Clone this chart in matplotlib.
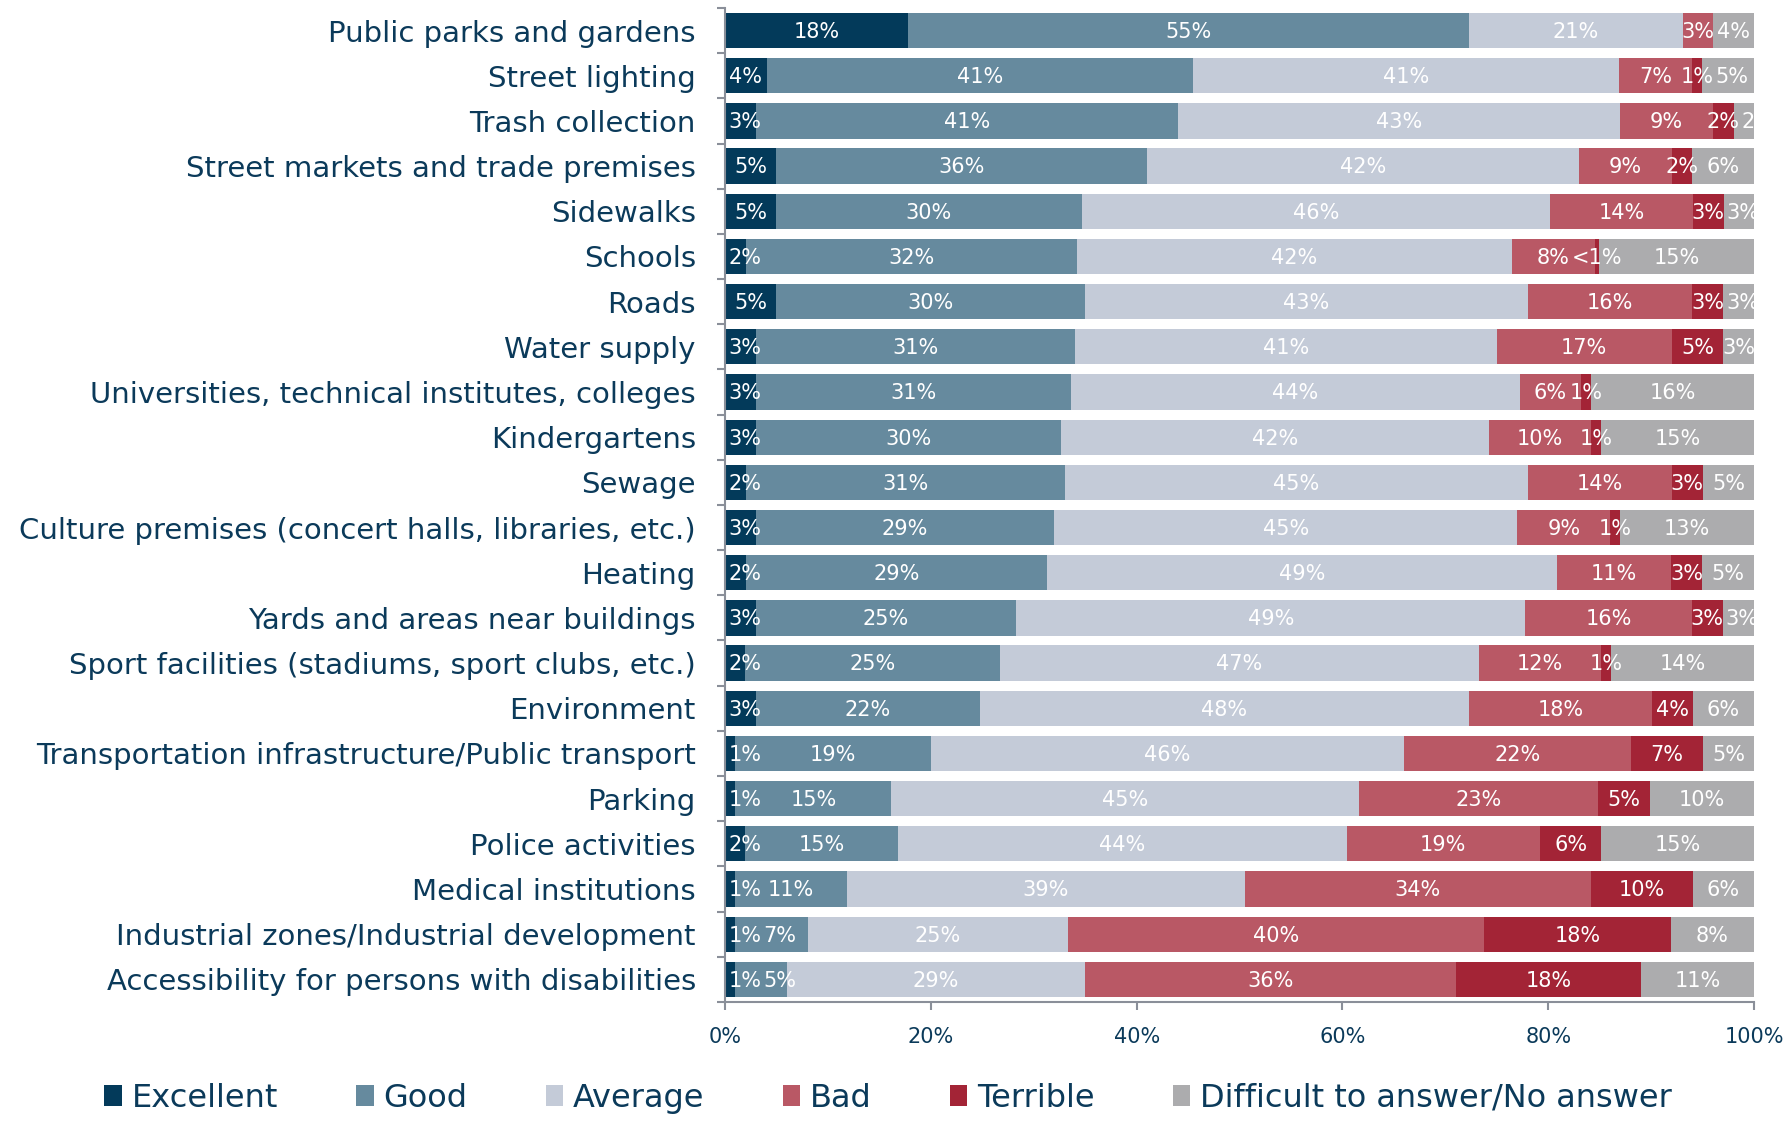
import numpy as np
import matplotlib
matplotlib.use("Agg")
import matplotlib.pyplot as plt
from matplotlib.patches import Patch

categories = [
    "Public parks and gardens",
    "Street lighting",
    "Trash collection",
    "Street markets and trade premises",
    "Sidewalks",
    "Schools",
    "Roads",
    "Water supply",
    "Universities, technical institutes, colleges",
    "Kindergartens",
    "Sewage",
    "Culture premises (concert halls, libraries, etc.)",
    "Heating",
    "Yards and areas near buildings",
    "Sport facilities (stadiums, sport clubs, etc.)",
    "Environment",
    "Transportation infrastructure/Public transport",
    "Parking",
    "Police activities",
    "Medical institutions",
    "Industrial zones/Industrial development",
    "Accessibility for persons with disabilities",
]

excellent = [18, 4, 3, 5, 5, 2, 5, 3, 3, 3, 2, 3, 2, 3, 2, 3, 1, 1, 2, 1, 1, 1]
good      = [55, 41, 41, 36, 30, 32, 30, 31, 31, 30, 31, 29, 29, 25, 25, 22, 19, 15, 15, 11, 7, 5]
average   = [21, 41, 43, 42, 46, 42, 43, 41, 44, 42, 45, 45, 49, 49, 47, 48, 46, 45, 44, 39, 25, 29]
bad       = [3, 7, 9, 9, 14, 8, 16, 17, 6, 10, 14, 9, 11, 16, 12, 18, 22, 23, 19, 34, 40, 36]
terrible  = [0, 1, 2, 2, 3, 0.4, 3, 5, 1, 1, 3, 1, 3, 3, 1, 4, 7, 5, 6, 10, 18, 18]
no_answer = [4, 5, 2, 6, 3, 15, 3, 3, 16, 15, 5, 13, 5, 3, 14, 6, 5, 10, 15, 6, 8, 11]

series_names = ["Excellent", "Good", "Average", "Bad", "Terrible",
                "Difficult to answer/No answer"]
colors = ["#033a5a", "#668a9e", "#c4cbd8", "#b95865", "#a32436", "#acacae"]
text_color = "#0b3a5a"

data = np.array([excellent, good, average, bad, terrible, no_answer], dtype=float)
# rows don't always add to 100 because of rounding, scale bars to 100%
shares = data / data.sum(axis=0) * 100
starts = np.cumsum(shares, axis=0) - shares

fig = plt.figure(figsize=(17.87, 11.23), dpi=100)
ax = fig.add_axes([0.4057, 0.1078, 0.5759, 0.8851])

y = np.arange(len(categories))
for i, name in enumerate(series_names):
    ax.barh(y, shares[i], left=starts[i], height=0.78, color=colors[i], label=name)

# data labels, pushed right when they would run into the previous one
label_size = 15
px_per_unit = 0.5759 * 1787 / 100
for j in range(len(categories)):
    prev_end = 0.2
    for i in range(len(series_names)):
        v = data[i, j]
        if v == 0:
            continue
        label = "<1%" if v < 1 else f"{v:.0f}%"
        # rough DejaVu Sans width: digits 0.64em, % 0.95em, < 0.84em
        em = label_size * 100 / 72
        w = sum(0.95 if c == "%" else 0.84 if c == "<" else 0.64 for c in label) * em / px_per_unit
        x0 = max(starts[i, j] + shares[i, j] / 2 - w / 2, prev_end + 0.15)
        ax.text(x0 + w / 2, y[j] + 0.03, label, ha="center", va="center",
                color="white", fontsize=label_size, clip_on=True)
        prev_end = x0 + w

ax.set_xlim(0, 100)
ax.set_ylim(len(categories) - 0.5, -0.5)
ax.set_xticks(np.arange(0, 101, 20))
ax.set_xticklabels([f"{t}%" for t in range(0, 101, 20)], color=text_color, fontsize=15)
ax.tick_params(axis="x", length=6, color="#8a8f99", width=1.5, pad=12)

ax.set_yticks(y)
ax.set_yticklabels(categories, color=text_color, fontsize=21)
ax.set_yticks(np.arange(-0.5, len(categories), 1), minor=True)
ax.tick_params(axis="y", which="major", length=0, pad=21)
ax.tick_params(axis="y", which="minor", length=6, color="#8a8f99", width=1.5)

for s in ["top", "right"]:
    ax.spines[s].set_visible(False)
for s in ["left", "bottom"]:
    ax.spines[s].set_color("#8a8f99")
    ax.spines[s].set_linewidth(1.5)

handles = [Patch(facecolor=c, edgecolor="none") for c in colors]
leg = fig.legend(handles, series_names, loc="center", bbox_to_anchor=(0.497, 0.022),
                 ncol=6, frameon=False, fontsize=23, handlelength=0.55, handleheight=0.6,
                 handletextpad=0.3, columnspacing=2.45)
for t in leg.get_texts():
    t.set_color(text_color)

fig.savefig("out.png", dpi=100)
